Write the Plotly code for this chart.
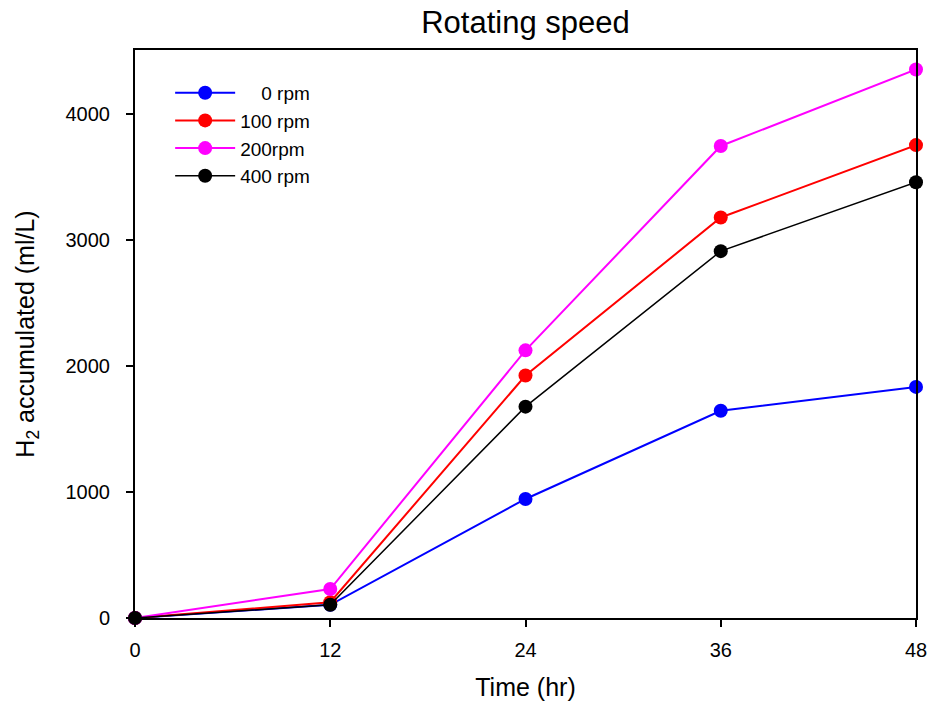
import plotly.graph_objects as go

time_hr = [0, 12, 24, 36, 48]
rpm0 = [0, 105, 945, 1645, 1835]
rpm100 = [0, 125, 1925, 3180, 3755]
rpm200 = [0, 230, 2125, 3748, 4355]
rpm400 = [0, 105, 1678, 2913, 3460]

series = [
    ("\u00a0\u00a0\u00a0\u00a00 rpm", rpm0, "#0000ff", 2),
    ("100 rpm", rpm100, "#ff0000", 2),
    ("200rpm", rpm200, "#ff00ff", 2),
    ("400 rpm", rpm400, "#000000", 1.5),
]

fig = go.Figure()
for name, ys, color, lw in series:
    fig.add_trace(go.Scatter(
        x=time_hr, y=ys, name=name, mode="lines+markers",
        line=dict(color=color, width=lw),
        marker=dict(color=color, size=14),
        cliponaxis=False,
    ))

font_family = "Liberation Sans, Arial, sans-serif"
fig.update_layout(
    width=939, height=715,
    margin=dict(l=135, r=16, t=50, b=97),
    paper_bgcolor="white", plot_bgcolor="white",
    font=dict(family=font_family, color="black", size=20),
    title=dict(text="Rotating speed", x=0.5, xanchor="center", y=0.969, yanchor="middle",
               xref="paper", font=dict(size=31, family=font_family)),
    showlegend=True,
    legend=dict(x=0.045, y=0.958, xanchor="left", yanchor="top",
                bgcolor="rgba(0,0,0,0)", font=dict(size=19, family=font_family),
                itemwidth=60, tracegroupgap=0),
    xaxis=dict(range=[0, 48], tickvals=[0, 12, 24, 36, 48], ticks="outside", ticklen=7,
               tickwidth=1.5, tickcolor="black", showline=True, linecolor="black", linewidth=2,
               mirror=True, showgrid=False, zeroline=False, ticklabelstandoff=6,
               title=dict(text="Time (hr)", font=dict(size=25), standoff=18),
               tickfont=dict(size=20)),
    yaxis=dict(range=[0, 4510], tickvals=[0, 1000, 2000, 3000, 4000], ticks="outside", ticklen=7,
               tickwidth=1.5, tickcolor="black", showline=True, linecolor="black", linewidth=2,
               mirror=True, showgrid=False, zeroline=False, ticklabelstandoff=12,
               title=dict(text="H<sub>2</sub> accumulated (ml/L)", font=dict(size=25), standoff=24),
               tickfont=dict(size=20)),
)

fig.write_html("out.html")
